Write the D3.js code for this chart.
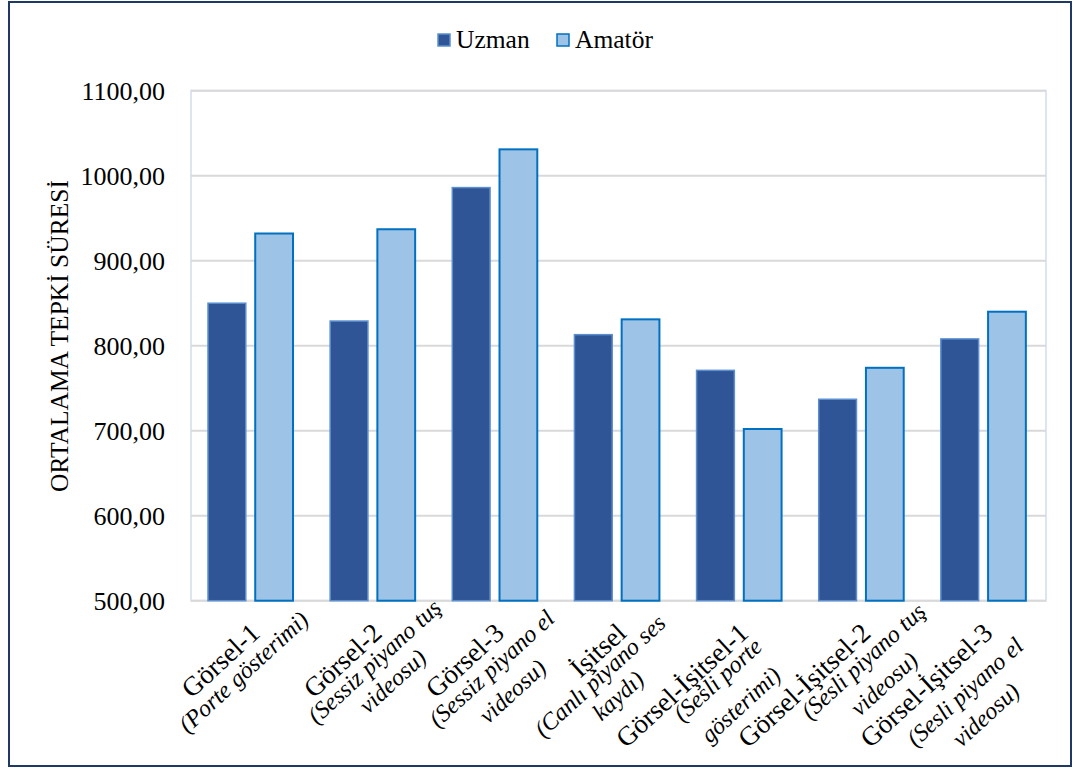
<!DOCTYPE html>
<html><head><meta charset="utf-8">
<script src="https://cdn.jsdelivr.net/npm/d3@7"></script>
<style>
html,body{margin:0;padding:0;background:#fff;}
svg{display:block;}
text{font-family:"Liberation Serif","DejaVu Serif",serif;}
</style></head>
<body><svg id="chart" width="1079" height="773"></svg>
<script>
const categories = [
  ["Görsel-1", "(Porte gösterimi)"],
  ["Görsel-2", "(Sessiz piyano tuş", "videosu)"],
  ["Görsel-3", "(Sessiz piyano el", "videosu)"],
  ["İşitsel", "(Canlı piyano ses", "kaydı)"],
  ["Görsel-İşitsel-1", "(Sesli porte", "gösterimi)"],
  ["Görsel-İşitsel-2", "(Sesli piyano tuş", "videosu)"],
  ["Görsel-İşitsel-3", "(Sesli piyano el", "videosu)"]
];
const seriesNames = ["Uzman", "Amatör"];
const uzman = [850, 829, 986, 813, 771, 737, 808];
const amator = [932, 937, 1031, 831, 702, 774, 840];
const yTicks = [500, 600, 700, 800, 900, 1000, 1100];
const yTitle = "ORTALAMA TEPKİ SÜRESİ";

// label layout (rotated frame, relative to end of first line)
const subCenter = [-38, -24.5, -33, -48, -54, -24, -60];
const subBase = [[45], [43, 70], [45, 76], [41, 68], [41, 75], [43, 74], [52, 83]];

const FONT = '"Liberation Serif","DejaVu Serif",serif';
const fills = {"Uzman": "#2f5597", "Amatör": "#9dc3e6"};
const strokes = {"Uzman": "#5b8fd0", "Amatör": "#0070c0"};

const svg = d3.select("#chart");
const plot = {left: 191, right: 1046, top: 90.7, bottom: 600.7};

svg.append("rect").attr("x", 9).attr("y", 2).attr("width", 1062).attr("height", 764)
  .attr("fill", "#fff").attr("stroke", "#1f3864").attr("stroke-width", 2);

const y = d3.scaleLinear().domain([500, 1100]).range([plot.bottom, plot.top]);
const x0 = d3.scaleBand().domain(d3.range(categories.length)).range([plot.left, plot.right]).padding(0);
const x1 = d3.scaleBand().domain(seriesNames).range([17, 102]).paddingInner(0.2).paddingOuter(0);

svg.append("rect").attr("x", plot.left).attr("y", plot.top).attr("width", plot.right - plot.left)
  .attr("height", plot.bottom - plot.top).attr("fill", "none").attr("stroke", "#dde5f0").attr("stroke-width", 2);

svg.append("g").selectAll("line").data(yTicks.slice(1)).join("line")
  .attr("x1", plot.left).attr("x2", plot.right)
  .attr("y1", d => y(d)).attr("y2", d => y(d))
  .attr("stroke", "#d9d9d9").attr("stroke-width", 2);

const yAxis = d3.axisLeft(y).tickValues(yTicks).tickSize(0).tickPadding(0)
  .tickFormat(d => d3.format(".2f")(d).replace(".", ","));
const ga = svg.append("g").attr("transform", `translate(165,0)`).call(yAxis);
ga.attr("font-family", FONT).attr("font-size", 26);
ga.select(".domain").remove();
ga.selectAll("text").attr("font-size", 26).attr("fill", "#000")
  .attr("font-family", FONT).attr("dy", "0.33em");

svg.append("line").attr("x1", plot.left).attr("x2", plot.right).attr("y1", y(500)).attr("y2", y(500))
  .attr("stroke", "#d9d9d9").attr("stroke-width", 2);

const data = categories.map((c, i) => ({i, vals: [{s: "Uzman", v: uzman[i]}, {s: "Amatör", v: amator[i]}]}));
const gCat = svg.append("g").selectAll("g").data(data).join("g")
  .attr("transform", d => `translate(${x0(d.i)},0)`);
gCat.selectAll("rect").data(d => d.vals).join("rect")
  .attr("x", d => x1(d.s)).attr("width", x1.bandwidth())
  .attr("y", d => y(d.v)).attr("height", d => y(500) - y(d.v))
  .attr("fill", d => fills[d.s]).attr("stroke", d => strokes[d.s])
  .attr("stroke-width", d => d.s === "Uzman" ? 1.5 : 2);

// x labels: first line upright (larger), following lines italic
const fs1 = 27, fs2 = 24;
categories.forEach((lines, i) => {
  const cx = x0(i) + x0.bandwidth() / 2;
  const g = svg.append("g").attr("transform", `translate(${cx - 5.5},619) rotate(-42.5)`);
  g.append("text").attr("font-family", FONT).attr("font-size", fs1).attr("text-anchor", "end")
    .attr("x", 0).attr("y", 22).text(lines[0]);
  lines.slice(1).forEach((ln, k) => {
    g.append("text").attr("font-family", FONT).attr("font-size", fs2).attr("font-style", "italic")
      .attr("text-anchor", "middle").attr("x", subCenter[i]).attr("y", subBase[i][k]).text(ln);
  });
});

svg.append("text").attr("transform", "translate(68,336) rotate(-90)").attr("font-family", FONT)
  .attr("text-anchor", "middle").attr("font-size", 25.5).text(yTitle);

const legX = [437, 556];
seriesNames.forEach((s, i) => {
  svg.append("rect").attr("x", legX[i] + 1).attr("y", 34).attr("width", 12).attr("height", 12)
    .attr("fill", fills[s]).attr("stroke", strokes[s]).attr("stroke-width", 1.5);
  svg.append("text").attr("font-family", FONT).attr("x", legX[i] + 19).attr("y", 48).attr("font-size", 25.5).text(s);
});
</script></body></html>
